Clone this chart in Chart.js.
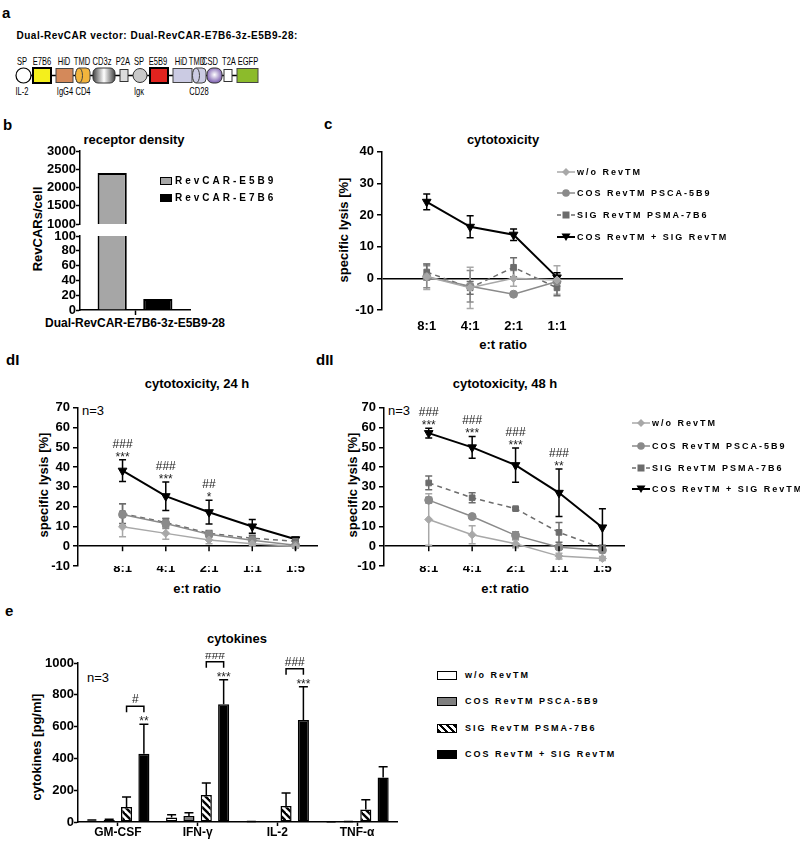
<!DOCTYPE html>
<html><head><meta charset="utf-8">
<script src="https://cdn.jsdelivr.net/npm/chart.js@4"></script>
<style>
body{margin:0;width:800px;height:845px;background:#fff;position:relative;overflow:hidden;font-family:'Liberation Sans',Arial,sans-serif;}
.t{position:absolute;white-space:nowrap;color:#000;line-height:1;}
canvas{position:absolute;}
.lg{position:absolute;white-space:nowrap;display:flex;align-items:center;font-weight:bold;color:#000;line-height:1;}
</style></head><body>
<svg style="position:absolute;left:0;top:0" width="300" height="100" xmlns="http://www.w3.org/2000/svg">
<defs>
<linearGradient id="g3z" x1="0" x2="1" y1="0" y2="0"><stop offset="0" stop-color="#444"/><stop offset="0.5" stop-color="#fff"/><stop offset="1" stop-color="#444"/></linearGradient>
<radialGradient id="gcsd" cx="0.5" cy="0.45" r="0.6"><stop offset="0" stop-color="#fff"/><stop offset="1" stop-color="#6f4fa8"/></radialGradient>
</defs>
<line x1="30" y1="75.5" x2="238" y2="75.5" stroke="#000" stroke-width="1.5"/>
<circle cx="23.5" cy="75.5" r="7.5" fill="#fff" stroke="#000" stroke-width="1.2"/>
<rect x="33" y="68" width="18" height="15" fill="#f4ef1c" stroke="#000" stroke-width="2"/>
<rect x="56" y="68.5" width="17" height="14" fill="#d4895a" stroke="#444" stroke-width="1"/>
<rect x="76" y="68" width="14" height="15" rx="4" fill="#f3b43c" stroke="#444" stroke-width="1"/>
<ellipse cx="79" cy="75.5" rx="3.5" ry="7.5" fill="#f3b43c" stroke="#444" stroke-width="1"/>
<rect x="93" y="68" width="22" height="15" rx="5" fill="url(#g3z)" stroke="#333" stroke-width="1"/>
<rect x="120" y="69.5" width="8" height="12" fill="#dcdcdc" stroke="#333" stroke-width="1"/>
<circle cx="140" cy="75.5" r="7" fill="#c8c8c8" stroke="#333" stroke-width="1"/>
<rect x="150" y="68" width="18" height="15" fill="#e2231f" stroke="#000" stroke-width="2"/>
<rect x="173" y="68.5" width="19" height="14" fill="#cbcbe3" stroke="#444" stroke-width="1"/>
<rect x="193" y="68" width="13" height="15" rx="4" fill="#cbcbe3" stroke="#444" stroke-width="1"/>
<ellipse cx="196" cy="75.5" rx="3.5" ry="7.5" fill="#cbcbe3" stroke="#444" stroke-width="1"/>
<rect x="207" y="68" width="15" height="15" rx="6" fill="url(#gcsd)" stroke="#333" stroke-width="1"/>
<rect x="224" y="69.5" width="8" height="12" fill="#fff" stroke="#333" stroke-width="1"/>
<rect x="237" y="68.5" width="21" height="14" fill="#8cbb2b" stroke="#444" stroke-width="1"/>
<g transform="scale(0.72 1)" font-family="'Liberation Sans',Arial,sans-serif" font-size="10.5" fill="#000" text-anchor="middle">
<text x="30.6" y="65">SP</text><text x="58.3" y="65">E7B6</text><text x="88.9" y="65">HiD</text><text x="113.9" y="65">TMD</text>
<text x="141.7" y="65">CD3z</text><text x="170.8" y="65">P2A</text><text x="193" y="65">SP</text><text x="219.4" y="65">E5B9</text>
<text x="251.4" y="65">HiD</text><text x="273.6" y="65">TMD</text><text x="291.7" y="65">CSD</text><text x="318" y="65">T2A</text><text x="344.4" y="65">EGFP</text>
<text x="30.6" y="95">IL-2</text><text x="90.3" y="95">IgG4</text><text x="115.3" y="95">CD4</text><text x="193" y="95">Igκ</text><text x="276.4" y="95">CD28</text>
</g>
</svg>
<script>
// ===== DATA =====
const bCategory = ['Dual-RevCAR-E7B6-3z-E5B9-28'];
const bE5B9 = [2400];
const bE7B6 = [15];
const bTop = {min:1000, max:3000, step:500};
const bBottom = {min:0, max:100, step:20};

const seriesNames = ['w/o RevTM','COS RevTM PSCA-5B9','SIG RevTM PSMA-7B6','COS RevTM + SIG RevTM'];

const cRatios = ['8:1','4:1','2:1','1:1'];
const cWo = [0.5, -3, 0, -0.5];        const cWoErr = [4, 6.5, 2.5, 4.5];
const cCos = [0.5, -2.5, -5, -1];      const cCosErr = [3.5, 5, 0.5, 1.5];
const cSig = [2, -3, 3.5, -3];         const cSigErr = [2.5, 2, 3, 2.5];
const cBoth = [24.2, 16.3, 13.8, 0.3]; const cBothErr = [2.5, 3.5, 1.8, 1.5];

const dRatios = ['8:1','4:1','2:1','1:1','1:5'];
const d24Wo = [9.8, 6.5, 3.2, 1.2, 0];      const d24WoErr = [5, 3, 2, 1, 1];
const d24Cos = [16, 11.5, 6, 3, 0.5];       const d24CosErr = [5.5, 2.5, 1.5, 1.5, 1];
const d24Sig = [16.5, 12, 6.5, 4, 2.5];     const d24SigErr = [5, 2, 1.5, 1.5, 1.5];
const d24Both = [38.2, 25.3, 17.2, 10, 3.5];const d24BothErr = [5.5, 7.2, 6, 3.5, 1];
const d24Hash = ['###','###','##','',''];
const d24Star = ['***','***','*','',''];

const d48Wo = [13.5, 5.8, 1.2, -5, -6.2];   const d48WoErr = [13, 4.5, 2, 1.5, 1];
const d48Cos = [23.3, 15, 5.5, -0.5, -2];   const d48CosErr = [1.5, 0.8, 1.8, 1, 1];
const d48Sig = [32, 24.5, 19, 7, -1];       const d48SigErr = [3.5, 2.5, 0.5, 5, 1.5];
const d48Both = [57.2, 50, 41, 27, 9.5];    const d48BothErr = [2.5, 5.5, 8.7, 12, 9.5];
const d48Hash = ['###','###','###','###',''];
const d48Star = ['***','***','***','**',''];

const cytokines = ['GM-CSF','IFN-γ','IL-2','TNF-α'];
const eWo = [8, 28, 2, 1];          const eWoErr = [5, 17, 1, 1];
const eCos = [13, 38, 0, 2];        const eCosErr = [5, 20, 0, 1];
const eSig = [95, 170, 100, 78];    const eSigErr = [62, 75, 82, 62];
const eBoth = [430, 740, 642, 280]; const eBothErr = [185, 155, 208, 68];
const eHash = ['#','###','###',''];
const eStar = ['**','***','***',''];

// ===== SETUP =====
const FONT = "'Liberation Sans', Arial, sans-serif";
Chart.defaults.font.family = FONT;
Chart.defaults.font.weight = 'bold';
Chart.defaults.font.size = 13;
Chart.defaults.color = '#000';
Chart.defaults.animation = false;
Chart.defaults.plugins.legend.display = false;
Chart.defaults.plugins.tooltip.enabled = false;
const plain = v => String(v);

function T(s, x, y, o = {}) {
  const d = document.createElement('div'); d.className = 't'; d.textContent = s;
  d.style.fontSize = (o.size || 13) + 'px'; d.style.fontWeight = o.w || 'bold';
  if (o.ls) d.style.letterSpacing = o.ls + 'px';
  d.style.left = x + 'px'; d.style.top = y + 'px';
  let tr = 'translateY(-50%)';
  if (o.c) tr = 'translate(-50%,-50%)';
  if (o.rot) tr = 'translate(-50%,-50%) rotate(-90deg)';
  d.style.transform = tr; document.body.appendChild(d); return d;
}
function place(area, m) {
  const left = area.x0 - m.yW, top = area.y0 - m.padT;
  const w = m.yW + (area.x1 - area.x0) + m.padR, h = m.padT + (area.y1 - area.y0) + m.xH + (m.padB || 0);
  const c = document.createElement('canvas'); c.width = w; c.height = h;
  c.style.left = left + 'px'; c.style.top = top + 'px'; c.style.width = w + 'px'; c.style.height = h + 'px';
  document.body.appendChild(c); return c;
}
function drawErr(chart, o) {
  const ctx = chart.ctx, ys = chart.scales.y;
  ctx.save(); ctx.setLineDash([]);
  chart.data.datasets.forEach((ds, i) => {
    if (!ds.errors) return;
    const meta = chart.getDatasetMeta(i);
    meta.data.forEach((el, j) => {
      const raw = ds.data[j]; const v = (typeof raw === 'object') ? raw.y : raw; const e = ds.errors[j];
      if (!e) return;
      const x = el.x, yT = ys.getPixelForValue(v + e);
      const yB = o.mode === 'bar' ? ys.getPixelForValue(v) : ys.getPixelForValue(v - e);
      ctx.strokeStyle = ds.errColor || ds.borderColor; ctx.lineWidth = o.lw || 1.5;
      ctx.beginPath(); ctx.moveTo(x, yT); ctx.lineTo(x, yB);
      ctx.moveTo(x - o.cap, yT); ctx.lineTo(x + o.cap, yT);
      if (o.mode !== 'bar') { ctx.moveTo(x - o.cap, yB); ctx.lineTo(x + o.cap, yB); }
      ctx.stroke();
    });
  });
  ctx.restore();
}
const errPlugin = {
  id: 'err',
  beforeDatasetsDraw(chart, a, o) { if (o.mode === 'line') drawErr(chart, o); },
  afterDatasetsDraw(chart, a, o) { if (o.mode === 'bar') drawErr(chart, o); }
};
const zeroTickPlugin = {
  id: 'zt',
  afterDraw(chart, a, o) {
    if (!o.show) return;
    const ctx = chart.ctx, xs = chart.scales.x, y0 = chart.scales.y.getPixelForValue(0);
    ctx.save(); ctx.strokeStyle = '#000'; ctx.lineWidth = 1.5;
    xs.ticks.forEach(t => { const x = xs.getPixelForValue(t.value); ctx.beginPath(); ctx.moveTo(x, y0); ctx.lineTo(x, y0 + 5); ctx.stroke(); });
    ctx.restore();
  }
};
const annPlugin = {
  id: 'ann',
  afterDatasetsDraw(chart, a, o) {
    if (!o.hash) return;
    const ds = chart.data.datasets[o.ds], meta = chart.getDatasetMeta(o.ds), ys = chart.scales.y, ctx = chart.ctx;
    ctx.save(); ctx.fillStyle = '#222'; ctx.textAlign = 'center'; ctx.textBaseline = 'alphabetic';
    ctx.font = 'normal 12px ' + FONT;
    meta.data.forEach((el, j) => {
      const top = ys.getPixelForValue(ds.data[j].y + ds.errors[j]);
      if (o.star[j]) ctx.fillText(o.star[j], el.x, top + 1);
      if (o.hash[j]) ctx.fillText(o.hash[j], el.x, top - 12);
    });
    ctx.restore();
  }
};
const brkPlugin = {
  id: 'brk',
  afterDatasetsDraw(chart, a, o) {
    if (!o.hash) return;
    const ctx = chart.ctx, ys = chart.scales.y, d3 = chart.data.datasets[3];
    const m2 = chart.getDatasetMeta(2), m3 = chart.getDatasetMeta(3);
    ctx.save(); ctx.fillStyle = '#222'; ctx.strokeStyle = '#000'; ctx.lineWidth = 1.5;
    ctx.textAlign = 'center'; ctx.textBaseline = 'alphabetic'; ctx.font = 'normal 12px ' + FONT;
    o.hash.forEach((h, j) => {
      const top = ys.getPixelForValue(d3.data[j] + d3.errors[j]);
      const x2 = m2.data[j].x, x3 = m3.data[j].x;
      if (o.star[j]) ctx.fillText(o.star[j], x3, top + 1);
      if (h) {
        const by = top - 18;
        ctx.beginPath(); ctx.moveTo(x2, by + 6); ctx.lineTo(x2, by); ctx.lineTo(x3, by); ctx.lineTo(x3, by + 6); ctx.stroke();
        ctx.fillText(h, (x2 + x3) / 2, by - 3);
      }
    });
    ctx.restore();
  }
};

const STY = [
  {color:'#a8a8a8', lw:1.5, ps:'rectRot', r:4},
  {color:'#8a8a8a', lw:1.5, ps:'circle', r:4},
  {color:'#6c6c6c', lw:1.5, ps:'rect', r:4, dash:[5,4]},
  {color:'#000000', lw:2, ps:'triangle', r:5, rot:180}
];

function lineChart(area, cats, vals, errs, opt) {
  const M = {yW:44, xH:30, padT:10, padR:12};
  const cv = place(area, M);
  return new Chart(cv, {
    type: 'line',
    data: { datasets: vals.map((v, k) => ({
      label: seriesNames[k], data: v.map((y, i) => ({x: i, y})), errors: errs[k],
      borderColor: STY[k].color, backgroundColor: STY[k].color, borderWidth: STY[k].lw, borderDash: STY[k].dash || [],
      pointStyle: STY[k].ps, pointRadius: STY[k].r, pointRotation: STY[k].rot || 0,
      pointBackgroundColor: STY[k].color, pointBorderColor: STY[k].color, pointBorderWidth: 1,
      tension: 0, fill: false, clip: false
    })) },
    options: {
      responsive: false, maintainAspectRatio: false,
      layout: {padding: {top: M.padT, right: M.padR, left: 0, bottom: 0}},
      scales: {
        x: {type: 'linear', min: -1.03, max: 4.52,
            afterBuildTicks: s => { s.ticks = cats.map((c, i) => ({value: i})); },
            afterFit: s => { s.height = M.xH; },
            ticks: {callback: v => cats[Math.round(v)], autoSkip: false, maxRotation: 0, padding: opt.xPad},
            grid: {display: false, drawTicks: false}, border: {display: false}},
        y: {min: opt.ymin, max: opt.ymax, afterFit: s => { s.width = M.yW; },
            ticks: {stepSize: 10, padding: 3, callback: plain, autoSkip: false},
            grid: {color: c => (c.tick && c.tick.value === 0) ? '#000' : 'rgba(0,0,0,0)', lineWidth: 1.5,
                   tickColor: '#000', tickLength: 5, tickWidth: 1.5},
            border: {color: '#000', width: 1.5}}
      },
      plugins: {err: {mode: 'line', cap: 3.5}, zt: {show: opt.zt}, ann: {hash: opt.hash, star: opt.star, ds: 3}}
    },
    plugins: [errPlugin, zeroTickPlugin, annPlugin]
  });
}

function svgMarker(k) {
  const s = STY[k];
  let m = '';
  if (s.ps === 'rectRot') m = `<polygon points="9,2 13,6 9,10 5,6" fill="${s.color}"/>`;
  else if (s.ps === 'circle') m = `<circle cx="9" cy="6" r="3.8" fill="${s.color}"/>`;
  else if (s.ps === 'rect') m = `<rect x="5.5" y="2.5" width="7" height="7" fill="${s.color}"/>`;
  else m = `<polygon points="4.5,2.5 13.5,2.5 9,10" fill="${s.color}"/>`;
  const dash = s.dash ? 'stroke-dasharray="4,3"' : '';
  return `<svg width="19" height="12" style="margin-right:1px"><line x1="0" y1="6" x2="18" y2="6" stroke="${s.color}" stroke-width="${s.lw}" ${dash}/>${m}</svg>`;
}
function lineLegend(x, ys) {
  ys.forEach((y, k) => {
    const d = document.createElement('div'); d.className = 'lg';
    d.style.left = x + 'px'; d.style.top = (y - 6) + 'px'; d.style.fontSize = '9px'; d.style.letterSpacing = '2px';
    d.innerHTML = svgMarker(k) + '<span></span>'; d.querySelector('span').textContent = seriesNames[k];
    document.body.appendChild(d);
  });
}

// ===== PANEL A texts =====
T('a', 2, 11.5, {size: 15});
T('Dual-RevCAR vector: Dual-RevCAR-E7B6-3z-E5B9-28:', 16.5, 35.5, {size: 10, ls: 0.5});

// ===== PANEL B =====
T('b', 3, 123.5, {size: 15});
T('receptor density', 134, 139, {c: true});
T('RevCARs/cell', 36.5, 229, {rot: true});
T(bCategory[0], 135, 323, {c: true, size: 12});
function bChart(area, rng, showX) {
  const M = {yW: 44, xH: showX ? 10 : 0, padT: 10, padR: 12, padB: showX ? 0 : 9};
  const cv = place(area, M);
  return new Chart(cv, {
    type: 'bar',
    data: {labels: bCategory, datasets: [
      {label: 'RevCAR-E5B9', data: bE5B9, backgroundColor: '#a6a6a6', borderColor: '#000', borderWidth: 2},
      {label: 'RevCAR-E7B6', data: bE7B6, backgroundColor: '#000', borderColor: '#000', borderWidth: 2}
    ]},
    options: {
      responsive: false, maintainAspectRatio: false,
      datasets: {bar: {categoryPercentage: 0.83, barPercentage: 0.64, borderSkipped: 'start', clip: 0}},
      layout: {padding: {top: M.padT, right: M.padR, left: 0, bottom: M.padB}},
      scales: {
        x: {display: showX, afterFit: s => { s.height = M.xH; },
            ticks: {display: false},
            grid: {drawOnChartArea: false, offset: false, tickLength: 5, tickColor: '#000', tickWidth: 1.5},
            border: {color: '#000', width: 1.5}},
        y: {min: rng.min, max: rng.max, afterFit: s => { s.width = M.yW; },
            ticks: {stepSize: rng.step, padding: 0, callback: plain, autoSkip: false},
            grid: {drawOnChartArea: false, tickLength: 4, tickColor: '#000', tickWidth: 1.5},
            border: {color: '#000', width: 1.5}}
      }
    }
  });
}
bChart({x0: 80, x1: 190, y0: 151, y1: 224}, bTop, false);
bChart({x0: 80, x1: 190, y0: 236, y1: 310}, bBottom, true);
[['RevCAR-E5B9', '#a6a6a6', 182], ['RevCAR-E7B6', '#000', 198.5]].forEach(([n, col, y]) => {
  const d = document.createElement('div'); d.className = 'lg';
  d.style.left = '160px'; d.style.top = (y - 6) + 'px'; d.style.fontSize = '10px'; d.style.letterSpacing = '3px';
  d.innerHTML = `<span style="display:inline-block;width:10px;height:6px;background:${col};border:1px solid #000;margin-right:3px"></span><span></span>`;
  d.lastChild.textContent = n; document.body.appendChild(d);
});

// ===== PANEL C =====
T('c', 324, 123, {size: 15});
T('cytotoxicity', 503, 139, {c: true});
T('specific lysis [%]', 343, 230, {rot: true});
T('e:t ratio', 503, 344, {c: true});
lineChart({x0: 382, x1: 623, y0: 151, y1: 310}, cRatios, [cWo, cCos, cSig, cBoth], [cWoErr, cCosErr, cSigErr, cBothErr],
  {ymin: -10, ymax: 40, xPad: 9, zt: false});
lineLegend(557, [172, 193, 215, 237]);

// ===== PANEL dI =====
T('dI', 6, 359, {size: 15});
T('cytotoxicity, 24 h', 197, 383, {c: true});
T('specific lysis [%]', 43, 485, {rot: true});
T('e:t ratio', 197, 588, {c: true});
T('n=3', 82, 410, {w: 'normal'});
lineChart({x0: 78, x1: 318, y0: 407, y1: 566}, dRatios, [d24Wo, d24Cos, d24Sig, d24Both], [d24WoErr, d24CosErr, d24SigErr, d24BothErr],
  {ymin: -10, ymax: 70, xPad: -5, zt: true, hash: d24Hash, star: d24Star});

// ===== PANEL dII =====
T('dII', 316, 359, {size: 15});
T('cytotoxicity, 48 h', 505, 383, {c: true});
T('specific lysis [%]', 352, 485, {rot: true});
T('e:t ratio', 505, 588, {c: true});
T('n=3', 388, 410, {w: 'normal'});
lineChart({x0: 384, x1: 625, y0: 407, y1: 566}, dRatios, [d48Wo, d48Cos, d48Sig, d48Both], [d48WoErr, d48CosErr, d48SigErr, d48BothErr],
  {ymin: -10, ymax: 70, xPad: -5, zt: true, hash: d48Hash, star: d48Star});
lineLegend(632, [423, 446, 468, 489]);

// ===== PANEL E =====
T('e', 5, 610, {size: 15});
T('cytokines', 237, 638, {c: true});
T('cytokines [pg/ml]', 36, 747, {rot: true});
T('n=3', 87, 677, {w: 'normal'});
const hatch = (() => {
  const c = document.createElement('canvas'); c.width = 7; c.height = 7; const g = c.getContext('2d');
  g.fillStyle = '#fff'; g.fillRect(0, 0, 7, 7); g.strokeStyle = '#000'; g.lineWidth = 2.4;
  for (const o of [-7, 0, 7]) { g.beginPath(); g.moveTo(o - 1, -1); g.lineTo(o + 8, 8); g.stroke(); }
  return g.createPattern(c, 'repeat');
})();
(() => {
  const M = {yW: 44, xH: 30, padT: 10, padR: 12};
  const cv = place({x0: 78, x1: 397, y0: 663, y1: 822}, M);
  const fills = ['#ffffff', '#808080', hatch, '#000000'];
  const vals = [eWo, eCos, eSig, eBoth], errs = [eWoErr, eCosErr, eSigErr, eBothErr];
  new Chart(cv, {
    type: 'bar',
    data: {labels: cytokines, datasets: vals.map((v, k) => ({
      label: seriesNames[k], data: v, errors: errs[k], backgroundColor: fills[k], borderColor: '#000', borderWidth: 1.5, errColor: '#000'
    }))},
    options: {
      responsive: false, maintainAspectRatio: false,
      datasets: {bar: {categoryPercentage: 0.87, barPercentage: 0.64, borderSkipped: false, clip: 0}},
      layout: {padding: {top: M.padT, right: M.padR, left: 0, bottom: 0}},
      scales: {
        x: {afterFit: s => { s.height = M.xH; }, ticks: {font: {size: 12}, padding: -1, maxRotation: 0},
            grid: {drawOnChartArea: false, offset: false, tickLength: 4, tickColor: '#000', tickWidth: 1.5},
            border: {color: '#000', width: 1.5}},
        y: {min: 0, max: 1000, afterFit: s => { s.width = M.yW; }, ticks: {stepSize: 200, padding: 0, callback: plain, autoSkip: false},
            grid: {drawOnChartArea: false, tickLength: 4, tickColor: '#000', tickWidth: 1.5},
            border: {color: '#000', width: 1.5}}
      },
      plugins: {err: {mode: 'bar', cap: 4.5}, brk: {hash: eHash, star: eStar}}
    },
    plugins: [errPlugin, brkPlugin]
  });
})();
const eBoxes = [
  'background:#fff;',
  'background:#808080;',
  'background:repeating-linear-gradient(45deg,#000 0 2.5px,#fff 2.5px 5px);',
  'background:#000;'
];
[677, 703, 730, 756].forEach((y, k) => {
  const d = document.createElement('div'); d.className = 'lg';
  d.style.left = '437px'; d.style.top = (y - 6) + 'px'; d.style.fontSize = '9px'; d.style.letterSpacing = '2px';
  d.innerHTML = `<span style="display:inline-block;width:18px;height:7px;border:1.5px solid #000;${eBoxes[k]}margin-right:8px"></span><span></span>`;
  d.lastChild.textContent = seriesNames[k]; document.body.appendChild(d);
});
</script>
</body></html>
